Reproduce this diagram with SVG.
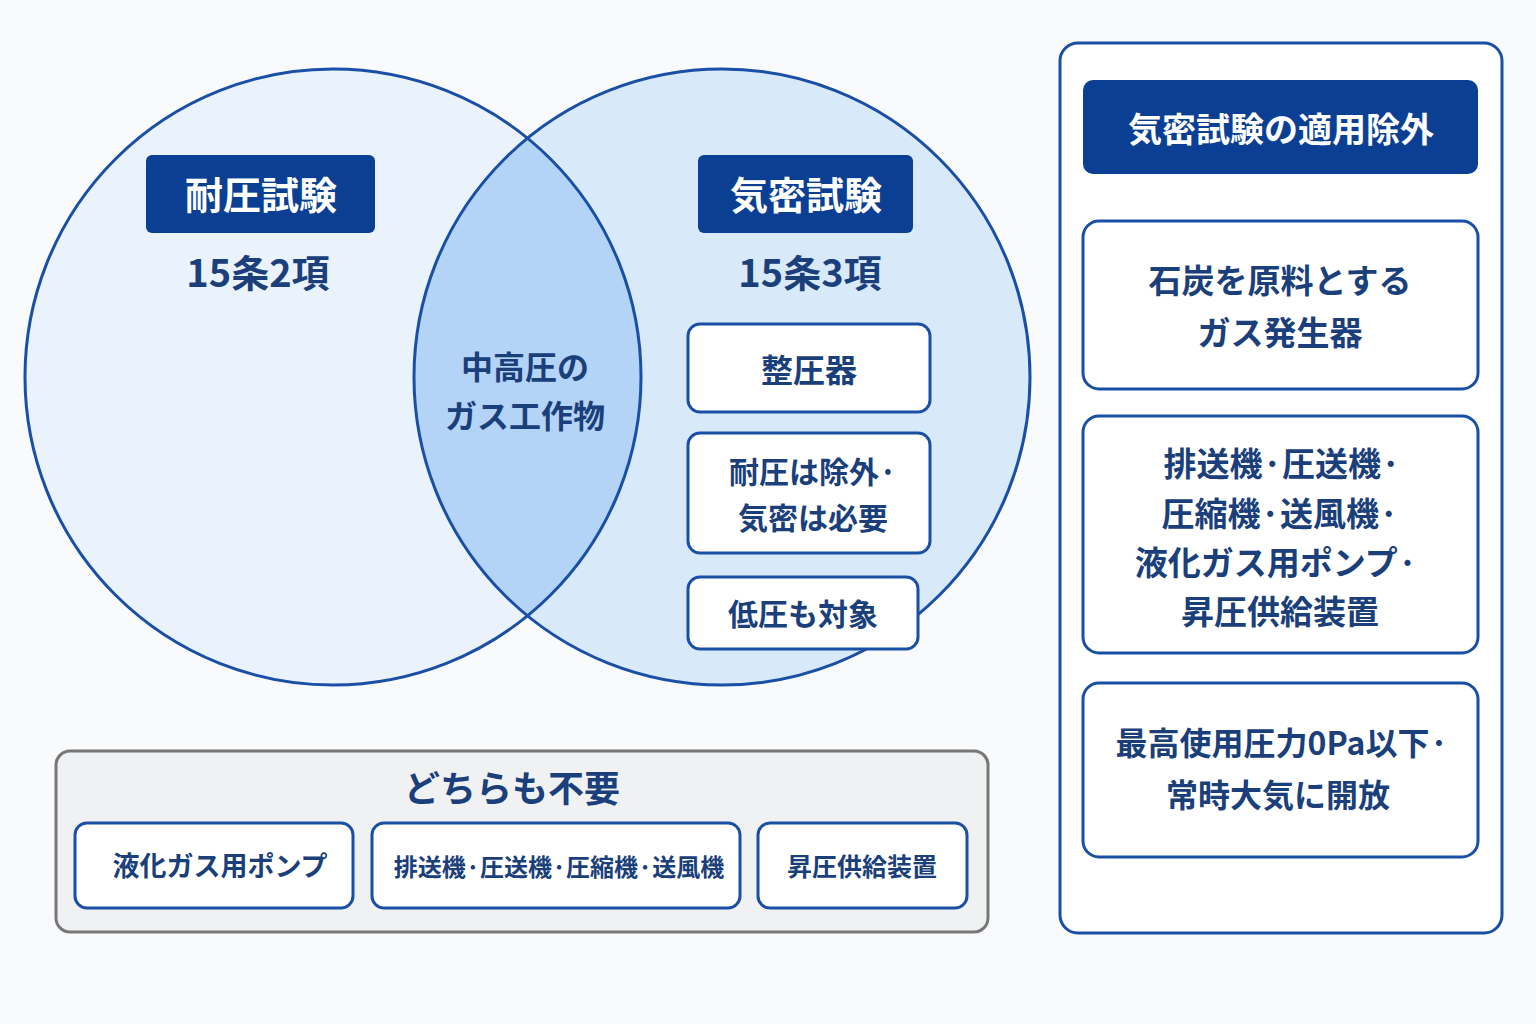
<svg xmlns="http://www.w3.org/2000/svg" width="1536" height="1024" viewBox="0 0 1536 1024">
<style>
text{font-family:"Noto Sans CJK JP","Noto Sans",sans-serif;font-weight:700;text-anchor:middle;fill:#1a3f7a}
.w{fill:#fff}
.box{fill:#fff;stroke:#1a4fa6;stroke-width:3}
.hdr{fill:#0b3f94}
</style>
<defs>
<clipPath id="cl"><circle cx="333" cy="377" r="308"/></clipPath>
</defs>
<rect width="1536" height="1024" fill="#f8fafc"/>
<g id="venn">
<circle cx="333" cy="377" r="308" fill="#eaf3fc"/>
<circle cx="722" cy="377" r="308" fill="#d8e9fa"/>
<circle cx="722" cy="377" r="308" fill="#b3d4f7" clip-path="url(#cl)"/>
<circle cx="333" cy="377" r="308" fill="none" stroke="#1a4fa6" stroke-width="3"/>
<circle cx="722" cy="377" r="308" fill="none" stroke="#1a4fa6" stroke-width="3"/>
</g>
<g id="left">
<rect class="hdr" x="146" y="155" width="229" height="78" rx="6"/>
<text class="w" x="261" y="209" font-size="38">耐圧試験</text>
<text x="258" y="287" font-size="38">15条2項</text>
</g>
<g id="lens">
<text x="525" y="379" font-size="32">中高圧の</text>
<text x="525" y="428" font-size="32">ガス工作物</text>
</g>
<g id="right">
<rect class="hdr" x="698" y="155" width="215" height="78" rx="6"/>
<text class="w" x="806" y="209" font-size="38">気密試験</text>
<text x="810" y="287" font-size="38">15条3項</text>
<rect class="box" x="688" y="324" width="242" height="88" rx="12"/>
<text x="809" y="382" font-size="32">整圧器</text>
<rect class="box" x="688" y="433" width="242" height="120" rx="12"/>
<text x="813" y="483" font-size="30">耐圧は除外·</text>
<text x="813" y="529" font-size="30">気密は必要</text>
<rect class="box" x="688" y="577" width="230" height="72" rx="12"/>
<text x="803" y="625" font-size="30">低圧も対象</text>
</g>
<g id="bottom">
<rect x="56" y="751" width="932" height="181" rx="14" fill="#f0f1f3" stroke="#777" stroke-width="3"/>
<text x="512" y="802" font-size="36">どちらも不要</text>
<rect class="box" x="75" y="823" width="278" height="85" rx="12"/>
<text x="220" y="876" font-size="27">液化ガス用ポンプ</text>
<rect class="box" x="372" y="823" width="368" height="85" rx="12"/>
<text x="559" y="876" font-size="24">排送機·圧送機·圧縮機·送風機</text>
<rect class="box" x="758" y="823" width="209" height="85" rx="12"/>
<text x="862" y="876" font-size="25">昇圧供給装置</text>
</g>
<g id="panel">
<rect x="1060" y="43" width="442" height="890" rx="18" fill="#fff" stroke="#1a4fa6" stroke-width="3"/>
<rect class="hdr" x="1083" y="80" width="395" height="94" rx="10"/>
<text class="w" x="1281" y="142" font-size="34">気密試験の適用除外</text>
<rect class="box" x="1083" y="221" width="395" height="168" rx="16"/>
<text x="1280" y="293" font-size="33">石炭を原料とする</text>
<text x="1280" y="345" font-size="33">ガス発生器</text>
<rect class="box" x="1083" y="416" width="395" height="237" rx="16"/>
<text x="1282" y="476" font-size="33">排送機·圧送機·</text>
<text x="1280" y="526" font-size="33">圧縮機·送風機·</text>
<text x="1276" y="575" font-size="33">液化ガス用ポンプ·</text>
<text x="1280" y="624" font-size="33">昇圧供給装置</text>
<rect class="box" x="1083" y="683" width="395" height="174" rx="16"/>
<text x="1282" y="755" font-size="32">最高使用圧力0Pa以下·</text>
<text x="1278" y="807" font-size="32">常時大気に開放</text>
</g>
</svg>
